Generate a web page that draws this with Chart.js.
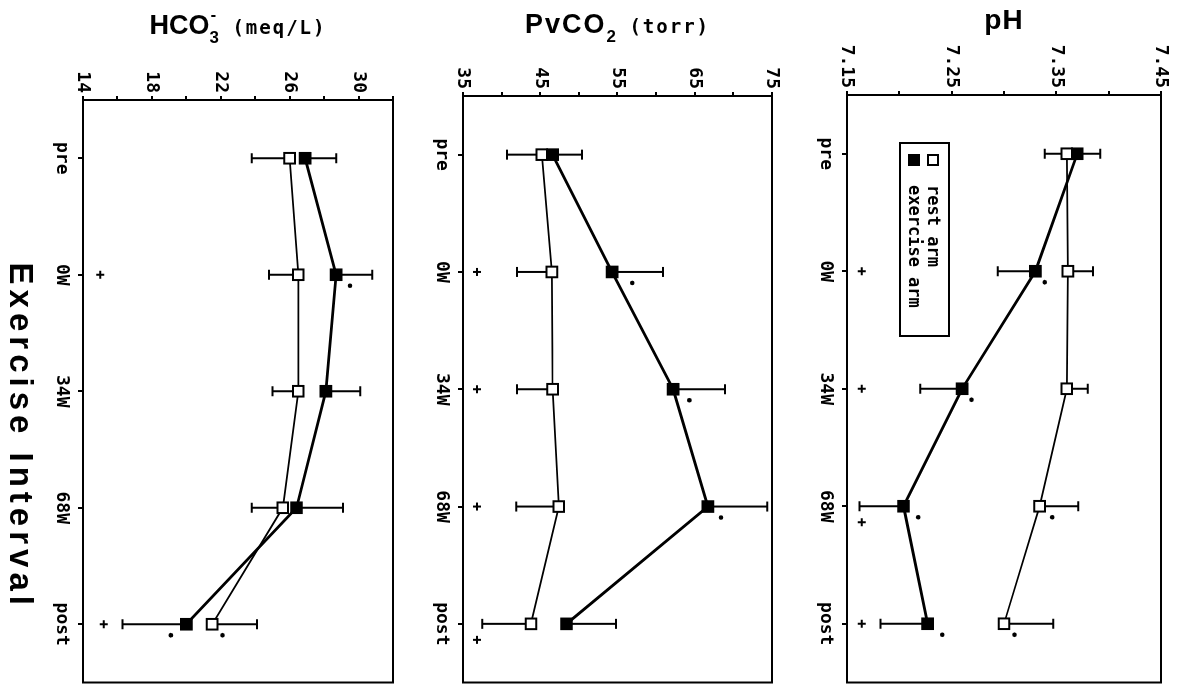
<!DOCTYPE html>
<html><head><meta charset="utf-8">
<script src="https://cdn.jsdelivr.net/npm/chart.js@4.4.1/dist/chart.umd.min.js"></script>
<style>
html,body{margin:0;padding:0;background:#fff;width:1182px;height:692px;overflow:hidden}
#rot{position:absolute;left:0;top:0;width:692px;height:1182px;transform-origin:0 0;transform:translateX(1182px) rotate(90deg);background:#fff}
#rot canvas{position:absolute;left:0}
</style></head><body>
<div id="rot">
<canvas id="c1" width="692" height="390" style="top:0"></canvas>
<canvas id="c2" width="692" height="380" style="top:390px"></canvas>
<canvas id="c3" width="692" height="412" style="top:770px"></canvas>
</div>
<script>
// ---- data ----
const categories = ['pre', '0W', '34W', '68W', 'post'];
const seriesNames = ['rest arm', 'exercise arm'];

const phRest      = [7.360, 7.361, 7.360, 7.334, 7.300];
const phRestErr   = [-0.021, 0.024, 0.020, 0.037, 0.047];
const phEx        = [7.370, 7.330, 7.260, 7.204, 7.227];
const phExErr     = [0.022, -0.036, -0.040, -0.042, -0.045];
const phPlus      = [null, 7.164, 7.164, 7.164, 7.164];
const phRestDot   = [null, null, null, 7.346, 7.310];
const phExDot     = [null, 7.339, 7.269, 7.218, 7.241];
const phTicks     = [7.15, 7.25, 7.35, 7.45];

const co2Rest     = [45.2, 46.5, 46.6, 47.4, 43.8];
const co2RestErr  = [-4.5, -4.5, -4.6, -5.5, -6.3];
const co2Ex       = [46.6, 54.3, 62.2, 66.7, 48.4];
const co2ExErr    = [3.8, 6.6, 6.7, 7.7, 6.4];
const co2Plus     = [null, 36.8, 36.8, 36.8, 36.8];
const co2RestDot  = [null, null, null, null, null];
const co2ExDot    = [null, 56.9, 64.3, 68.4, null];
const co2Ticks    = [35, 45, 55, 65, 75];

const hcoRest     = [26.0, 26.5, 26.5, 25.6, 21.5];
const hcoRestErr  = [-2.2, -1.7, -1.5, -1.8, 2.6];
const hcoEx       = [26.9, 28.7, 28.1, 26.4, 20.0];
const hcoExErr    = [1.8, 2.1, 2.0, 2.7, -3.7];
const hcoPlus     = [null, 15.0, null, null, 15.2];
const hcoRestDot  = [null, null, null, null, 22.1];
const hcoExDot    = [null, 29.5, null, null, 19.1];
const hcoTicks    = [14, 18, 22, 26, 30];

// ---- styles ----
const SANS = '"Liberation Sans", Arial, sans-serif';
const MONO = '"DejaVu Sans Mono", monospace';

function drawPieces(ctx, pieces, cx, baseY) {
  let total = 0;
  pieces.forEach(p => {
    ctx.font = p.font; ctx.letterSpacing = (p.ls || 0) + 'px';
    p.w = ctx.measureText(p.t).width; total += p.w;
  });
  let x = cx - total / 2;
  ctx.textAlign = 'left'; ctx.textBaseline = 'alphabetic'; ctx.fillStyle = '#000';
  pieces.forEach(p => {
    ctx.font = p.font; ctx.letterSpacing = (p.ls || 0) + 'px';
    ctx.fillText(p.t, x, baseY + (p.dy || 0));
    if (p.sup) {
      ctx.fillText(p.sup, x + 1, baseY - 14);
    }
    x += p.w;
  });
  ctx.letterSpacing = '0px';
}

const decorPlugin = {
  id: 'decor',
  beforeDatasetsDraw(chart) {
    const ctx = chart.ctx, ys = chart.scales.y, a = chart.chartArea;
    ctx.save();
    ctx.strokeStyle = '#000'; ctx.lineWidth = 2;
    ctx.strokeRect(a.left, a.top, a.right - a.left, a.bottom - a.top);
    chart.data.datasets.forEach((ds, di) => {
      const meta = chart.getDatasetMeta(di);
      ds.err.forEach((e, i) => {
        if (e == null) return;
        const pt = meta.data[i];
        const y1 = ys.getPixelForValue(ds.data[i] + e);
        ctx.beginPath();
        ctx.moveTo(pt.x, pt.y); ctx.lineTo(pt.x, y1);
        ctx.moveTo(pt.x - 5, y1); ctx.lineTo(pt.x + 5, y1);
        ctx.stroke();
      });
    });
    ctx.restore();
  },
  afterDraw(chart) {
    const o = chart.options.plugins.decor;
    const ctx = chart.ctx, xs = chart.scales.x, ys = chart.scales.y, a = chart.chartArea;
    ctx.save();
    ctx.strokeStyle = '#000'; ctx.fillStyle = '#000'; ctx.lineWidth = 2;
    o.plus.forEach((v, i) => {
      if (v == null) return;
      const x = xs.getPixelForValue(i) + (o.plusShift[i] || 0), y = ys.getPixelForValue(v);
      ctx.beginPath();
      ctx.moveTo(x - 4, y); ctx.lineTo(x + 4, y);
      ctx.moveTo(x, y - 4); ctx.lineTo(x, y + 4);
      ctx.stroke();
    });
    [o.restDot, o.exDot].forEach(arr => arr.forEach((v, i) => {
      if (v == null) return;
      const x = xs.getPixelForValue(i) + 11, y = ys.getPixelForValue(v);
      ctx.beginPath(); ctx.arc(x, y, 2.3, 0, Math.PI * 2); ctx.fill();
    }));
    ctx.save();
    ctx.translate(o.titleU, (a.top + a.bottom) / 2);
    ctx.rotate(-Math.PI / 2);
    drawPieces(ctx, o.title, 0, 0);
    ctx.restore();
    if (o.legend) {
      const lx = a.left + 48, ly = a.bottom - 102, lw = 193, lh = 49;
      ctx.fillStyle = '#fff';
      ctx.fillRect(lx, ly, lw, lh);
      ctx.strokeRect(lx, ly, lw, lh);
      chart.data.datasets.forEach((ds, di) => {
        const cy = ly + 16 + di * 19;
        ctx.fillStyle = ds.pointBackgroundColor;
        ctx.fillRect(lx + 12, cy - 5, 10, 10);
        ctx.strokeRect(lx + 12, cy - 5, 10, 10);
        ctx.fillStyle = '#000';
        ctx.font = 'bold 17px ' + MONO;
        ctx.textAlign = 'left'; ctx.textBaseline = 'middle';
        ctx.fillText(ds.label, lx + 42, cy + 1);
      });
    }
    if (o.xTitle) {
      drawPieces(ctx, [{t: o.xTitle, font: 'bold 33px ' + SANS, ls: 5}], (a.left + a.right) / 2 + 45, o.xTitleV);
    }
    ctx.restore();
  }
};

function panel(id, o) {
  new Chart(document.getElementById(id), {
    type: 'line',
    data: {
      labels: categories,
      datasets: [
        {label: seriesNames[0], data: o.rest, err: o.restErr, order: 2,
         borderColor: '#000', borderWidth: 1.8, pointStyle: 'rect', pointRadius: 7.5,
         pointBackgroundColor: '#fff', pointBorderColor: '#000', pointBorderWidth: 2, tension: 0},
        {label: seriesNames[1], data: o.ex, err: o.exErr, order: 1,
         borderColor: '#000', borderWidth: 2.8, pointStyle: 'rect', pointRadius: 7.5,
         pointBackgroundColor: '#000', pointBorderColor: '#000', pointBorderWidth: 2, tension: 0}
      ]
    },
    options: {
      responsive: false, animation: false, devicePixelRatio: 1,
      layout: {padding: {top: o.padTop, right: o.padRight, left: 0, bottom: 0}},
      plugins: {
        legend: {display: false}, tooltip: {enabled: false},
        decor: {plus: o.plus, plusShift: o.plusShift, restDot: o.restDot, exDot: o.exDot,
                title: o.title, titleU: o.titleU, legend: o.legend, xTitle: o.xTitle, xTitleV: o.xTitleV}
      },
      scales: {
        x: {
          type: 'category', offset: true,
          grid: {drawOnChartArea: false, drawTicks: true, tickLength: 5, color: '#000', lineWidth: 2},
          border: {display: false},
          ticks: {color: '#000', font: {family: MONO, weight: 'bold', size: 18}, padding: 6, maxRotation: 0, autoSkip: false},
          afterFit: s => { s.height = o.xHeight; }
        },
        y: {
          type: 'linear', min: o.min, max: o.max,
          grid: {drawOnChartArea: false, drawTicks: true, tickLength: 4, color: '#000', lineWidth: 2},
          border: {display: false},
          ticks: {
            stepSize: o.step, color: '#000', font: {family: MONO, weight: 'bold', size: 18}, padding: 3,
            callback: v => {
              const hit = o.labels.find(t => Math.abs(t - v) < 1e-6);
              return hit == null ? '' : hit.toFixed(o.dec);
            }
          },
          afterFit: s => { s.width = o.yWidth; }
        }
      }
    },
    plugins: [decorPlugin]
  });
}

panel('c1', {
  rest: phRest, restErr: phRestErr, ex: phEx, exErr: phExErr,
  plus: phPlus, plusShift: [0, 0, 0, 16, 0], restDot: phRestDot, exDot: phExDot,
  min: 7.15, max: 7.45, step: 0.05, labels: phTicks, dec: 2,
  padTop: 21, padRight: 7, yWidth: 95, xHeight: 55,
  title: [{t: 'pH', font: 'bold 28px ' + SANS, ls: 1}], titleU: 29, legend: true
});
panel('c2', {
  rest: co2Rest, restErr: co2RestErr, ex: co2Ex, exErr: co2ExErr,
  plus: co2Plus, plusShift: [0, 0, 0, 0, 16], restDot: co2RestDot, exDot: co2ExDot,
  min: 35, max: 75, step: 5, labels: co2Ticks, dec: 0,
  padTop: 20, padRight: 5, yWidth: 96, xHeight: 51,
  title: [{t: 'PvCO', font: 'bold 27px ' + SANS, ls: 2}, {t: '2', font: 'bold 17px ' + SANS, dy: 9},
          {t: ' (torr)', font: 'bold 19px ' + MONO, ls: 2}], titleU: 33
});
panel('c3', {
  rest: hcoRest, restErr: hcoRestErr, ex: hcoEx, exErr: hcoExErr,
  plus: hcoPlus, plusShift: [0, 0, 0, 0, 0], restDot: hcoRestDot, exDot: hcoExDot,
  min: 14, max: 32, step: 2, labels: hcoTicks, dec: 0,
  padTop: 19, padRight: 4, yWidth: 100, xHeight: 83,
  title: [{t: 'HCO', font: 'bold 27px ' + SANS}, {t: '3', font: 'bold 17px ' + SANS, dy: 9, sup: '-'},
          {t: ' (meq/L)', font: 'bold 19px ' + MONO, ls: 2}], titleU: 34,
  xTitle: 'Exercise Interval', xTitleV: 402
});
</script>
</body></html>
